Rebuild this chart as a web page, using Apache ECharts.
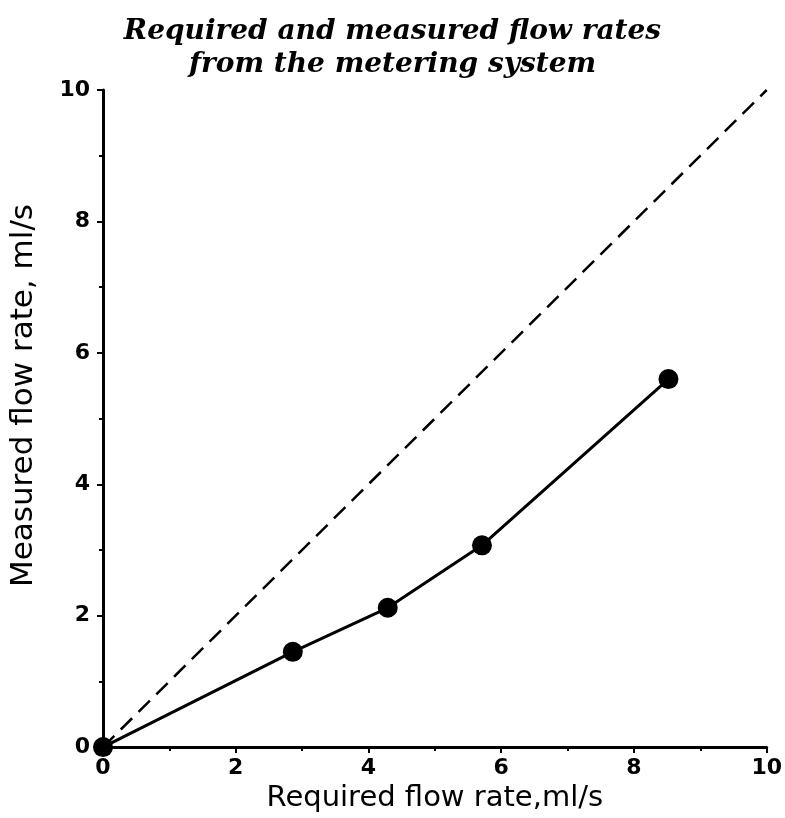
<!DOCTYPE html>
<html>
<head>
<meta charset="utf-8">
<script src="https://cdn.jsdelivr.net/npm/echarts@6/dist/echarts.min.js"></script>
<style>
  html, body { margin: 0; padding: 0; background: #fff; }
  #chart { width: 785px; height: 818px; }
</style>
</head>
<body>
<div id="chart"></div>
<script>
// Required vs measured flow rate of the metering system (ml/s)
const requiredRate = [0, 2.86, 4.29, 5.71, 8.52];
const measuredRate = [0, 1.45, 2.12, 3.07, 5.60];
// Ideal response: measured equals required
const idealX = [0, 10];
const idealY = [0, 10];
const xTicks = [0, 2, 4, 6, 8, 10];
const yTicks = [0, 2, 4, 6, 8, 10];

const titleLines = ['Required and measured flow rates', 'from the metering system'];
const xName = 'Required flow rate,ml/s';
const yName = 'Measured flow rate, ml/s';

const chart = echarts.init(document.getElementById('chart'));
const sans = '"DejaVu Sans", sans-serif';

const measuredPts = requiredRate.map((x, i) => [x, measuredRate[i]]);
const idealPts = idealX.map((x, i) => [x, idealY[i]]);

const axisCommon = {
  type: 'value',
  min: 0,
  max: 10,
  interval: 2,
  splitLine: { show: false },
  axisLine: { show: true, lineStyle: { color: '#000', width: 3 } },
  axisTick: { show: true, length: 6, lineStyle: { color: '#000', width: 2 } },
  minorTick: { show: true, splitNumber: 2, length: 4, lineStyle: { color: '#000', width: 2 } },
  nameLocation: 'middle',
  nameTextStyle: { fontFamily: sans, fontSize: 29, color: '#000' },
  axisLabel: {
    fontFamily: sans, fontSize: 22, fontWeight: 'bold', color: '#000'
  }
};

chart.setOption({
  backgroundColor: '#fff',
  animation: false,
  title: {
    text: titleLines.join('\n'),
    left: 'center',
    top: 10,
    textStyle: {
      fontFamily: '"DejaVu Serif", serif',
      fontStyle: 'italic',
      fontWeight: 'bold',
      fontSize: 28,
      lineHeight: 33,
      color: '#000'
    }
  },
  grid: { left: 103, right: 17, top: 90, bottom: 70, containLabel: false },
  xAxis: Object.assign({}, axisCommon, {
    name: xName,
    nameGap: 36,
    axisLabel: Object.assign({}, axisCommon.axisLabel, { margin: 10,
      formatter: v => (xTicks.includes(v) ? String(v) : '') })
  }),
  yAxis: Object.assign({}, axisCommon, {
    name: yName,
    nameGap: 64,
    nameTextStyle: Object.assign({}, axisCommon.nameTextStyle, { fontSize: 31, padding: [0, 0, 0, 46] }),
    axisLabel: Object.assign({}, axisCommon.axisLabel, { margin: 13,
      formatter: v => (yTicks.includes(v) ? String(v) : '') })
  }),
  series: [
    {
      name: 'ideal',
      type: 'line',
      data: idealPts,
      showSymbol: false,
      lineStyle: { color: '#000', width: 2.5, type: [16, 9] },
      z: 1
    },
    {
      name: 'measured',
      type: 'line',
      data: measuredPts,
      symbol: 'circle',
      symbolSize: 20,
      itemStyle: { color: '#000', borderWidth: 0, borderColor: '#000', opacity: 1 },
      lineStyle: { color: '#000', width: 3 },
      z: 2
    }
  ]
});
</script>
</body>
</html>
